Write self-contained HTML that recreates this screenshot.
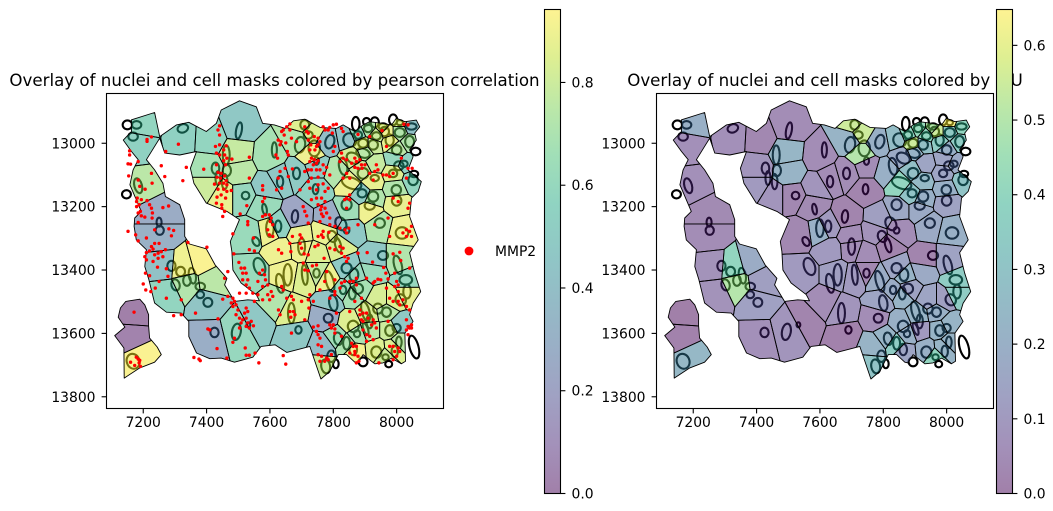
<!DOCTYPE html>
<html lang="en">
<head>
<meta charset="utf-8">
<title>Overlay of nuclei and cell masks</title>
<style>
html,body{margin:0;padding:0;background:#fff;}
svg{display:block;}
text{font-family:"DejaVu Sans","Liberation Sans",sans-serif;fill:#000;}
.title{font-size:16.67px;}
.tick{font-size:13.89px;}
</style>
</head>
<body>
<svg id="figure" width="1053" height="511" viewBox="0 0 1053 511" xmlns="http://www.w3.org/2000/svg">
  <rect x="0" y="0" width="1053" height="511" fill="#fff"/>
  <defs id="figure-defs">
    <linearGradient id="cbarGradient" x1="0" y1="1" x2="0" y2="0"></linearGradient>
  </defs>
  <text class="title" x="274.5" y="86" text-anchor="middle">Overlay of nuclei and cell masks colored by pearson correlation</text>
  <text class="title" x="825" y="86" text-anchor="middle">Overlay of nuclei and cell masks colored by IoU</text>
  <g id="pearson-panel"></g>
  <g id="iou-panel"></g>
  <g id="pearson-colorbar"></g>
  <g id="iou-colorbar"></g>
  <g>
    <circle cx="469" cy="251" r="4.4" fill="#ff0000"/>
    <text class="tick" x="495" y="256">MMP2</text>
  </g>
</svg>
<script>
// ---- axis ticks ----
const xTicks = [7200, 7400, 7600, 7800, 8000];
const yTicks = [13000, 13200, 13400, 13600, 13800];
const pearsonBarTicks = [0.0, 0.2, 0.4, 0.6, 0.8];
const iouBarTicks = [0.0, 0.1, 0.2, 0.3, 0.4, 0.5, 0.6];
const xDomain = [7084, 8148];
const yDomain = [12843, 13837];
const pearsonMax = 0.942;
const iouMax = 0.648;

// ---- tissue outline (data units): outer boundary, inner hole, separate island ----
const tissueOuter = [
[7163,12926],[7236,12903],[7252,12979],[7305,12942],[7344,12934],[7399,12963],[7431,12937],[7446,12895],[7504,12866],[7557,12885],[7577,12937],[7614,12942],[7648,12953],[7674,12929],[7710,12924],[7758,12950],[7810,12953],[7831,12942],[7868,12963],[7894,12942],[7915,12932],[7952,12937],[7984,12942],[7999,12921],[8026,12932],[8062,12927],[8073,12948],[8057,12968],[8062,12990],[8041,13021],[8052,13042],[8036,13084],[8078,13121],[8068,13152],[8047,13173],[8041,13231],[8068,13305],[8041,13345],[8057,13410],[8076,13468],[8052,13505],[8041,13541],[8052,13562],[8026,13599],[8028,13688],[8015,13696],[7984,13678],[7957,13693],[7931,13696],[7894,13667],[7878,13693],[7868,13691],[7842,13667],[7816,13667],[7789,13720],[7761,13744],[7726,13641],[7653,13660],[7616,13636],[7572,13641],[7546,13675],[7488,13691],[7446,13678],[7410,13680],[7368,13662],[7344,13610],[7344,13562],[7320,13536],[7273,13533],[7236,13504],[7218,13431],[7205,13389],[7210,13336],[7178,13305],[7171,13262],[7173,13236],[7194,13215],[7158,13131],[7168,13084],[7184,13052],[7163,13026],[7137,12990],[7163,12963]
];
const tissueHole = [
[7252,12984],[7210,13052],[7236,13084],[7262,13126],[7270,13168],[7315,13194],[7331,13241],[7331,13294],[7346,13318],[7399,13333],[7427,13384],[7464,13426],[7457,13447],[7488,13499],[7530,13494],[7567,13497],[7557,13478],[7509,13441],[7483,13400],[7480,13342],[7475,13310],[7504,13241],[7464,13215],[7399,13189],[7360,13126],[7349,13079],[7368,13026],[7315,13037],[7268,13031]
];
const tissueIsland = [
[7145,13499],[7189,13492],[7205,13510],[7217,13541],[7217,13576],[7220,13615],[7244,13643],[7257,13667],[7236,13691],[7189,13709],[7140,13741],[7139,13646],[7110,13607],[7142,13580],[7121,13549],[7128,13520]
];

// ---- cell seeds: centre x, centre y, reach x, reach y (data units) ----
const cellSeeds = [
[7205,12942,50,48],[7194,13005,60,50],[7320,12979,78,50],[7210,13131,58,85],[7252,13215,80,50],[7252,13294,85,60],[7262,13384,75,60],[7273,13478,62,62],[7325,13389,40,55],[7338,13447,30,50],
[7383,13373,55,62],[7415,13436,60,45],[7399,13499,70,50],[7402,13615,60,70],[7505,13590,65,100],[7556,13562,55,75],[7168,13536,50,45],[7163,13610,56,37],[7194,13678,62,65],[7504,12947,75,85],
[7410,12984,55,60],[7494,13031,50,45],[7399,13079,60,60],[7504,13089,55,45],[7399,13136,60,50],[7451,13168,50,60],[7514,13168,60,60],[7599,13042,58,85],[7588,13136,60,50],[7577,13200,50,50],
[7600,13275,50,60],[7535,13285,60,60],[7541,13410,65,70],[7690,12990,50,62],[7705,12937,30,22],[7731,12963,25,25],[7731,13037,30,45],[7784,12995,38,55],[7842,12984,40,50],[7747,13073,50,50],
[7684,13095,50,60],[7632,13110,50,50],[7747,13147,60,50],[7684,13231,70,70],[7626,13262,60,60],[7695,13294,70,50],[7773,13283,60,50],[7789,13236,50,40],[7847,13210,50,50],[7852,13273,45,40],
[7810,13091,45,60],[7863,13042,35,40],[7900,13026,35,35],[7852,13126,50,50],[7891,13084,30,30],[7931,13063,30,35],[7924,13121,30,30],[7891,13158,30,30],[7926,13173,30,35],[7915,13210,45,40],
[7999,13189,50,45],[7947,13257,50,50],[8015,13273,50,55],[7994,13142,45,35],[7989,13095,35,30],[7994,13047,35,30],[8000,13021,40,30],[8052,13116,35,32],[8031,13063,32,35],[8041,12995,30,28],
[8010,12963,30,25],[8047,12947,25,22],[7978,12995,30,30],[7968,12963,25,25],[7936,12974,25,25],[7910,12953,22,22],[7878,12968,25,25],[7894,13005,25,22],[7926,13005,22,22],[7957,12953,20,20],
[8010,12932,18,15],[7653,13410,55,70],[7710,13420,40,70],[7747,13405,25,60],[7784,13426,35,60],[7700,13331,50,40],[7632,13336,50,50],[7747,13347,40,40],[7815,13326,50,50],[7842,13394,40,40],
[7868,13420,35,40],[7931,13368,60,60],[8004,13368,50,60],[8031,13436,40,30],[8031,13473,45,30],[7989,13494,35,45],[7947,13494,35,45],[7968,13531,40,35],[7879,13457,35,35],[7831,13463,30,30],
[7858,13478,25,30],[7794,13499,45,40],[7779,13552,50,40],[7668,13531,60,70],[7616,13504,50,50],[7679,13605,80,60],[7852,13567,40,45],[7910,13541,35,45],[7875,13604,30,30],[7915,13589,30,35],
[7978,13589,30,35],[8010,13573,40,30],[8010,13625,35,30],[7936,13651,40,40],[7989,13646,30,35],[7964,13672,25,25],[7868,13657,30,35],[7842,13631,25,40],[7810,13610,40,40],[7768,13641,45,40],
[7763,13699,45,50],[7926,13400,55,50]
];

// ---- per-cell scores, same order as cellSeeds ----
const pearsonValues = [
.58,.55,.55,.75,.26,.3,.42,.58,.9,.72,
.93,.75,.45,.28,.6,.47,0,.02,.93,.47,
.58,.78,.68,.75,.8,.88,.6,.68,.47,.62,
.9,.62,.62,.72,.85,.85,.9,.4,.43,.5,
.5,.47,.55,.22,.55,.88,.88,.27,.65,.47,
.72,.82,.75,.9,.8,.78,.88,.5,.72,.9,
.88,.72,.9,.72,.85,.6,.75,.58,.55,.72,
.72,.42,.88,.9,.8,.72,.6,.85,.8,.85,
.85,.9,.85,.78,.9,.9,.9,.85,.85,.48,
.6,.47,.72,.6,.88,.85,.83,.75,.68,.62,
.68,.45,.27,.85,.72,.47,.85,.83,.7,.75,
.8,.47,.75,.85,.85,.8,.92,.7,.65,.38,
.8,.62
];
const iouValues = [
.2,.06,.06,.06,.04,.05,.07,.07,.4,.5,
.18,.12,.13,.06,.08,.02,0,.01,.24,.05,
.03,.23,.08,.22,.1,.08,.03,.05,.08,.04,
.2,.03,.1,.22,.55,.55,.5,.2,.27,.05,
.05,.05,.02,.02,.1,.05,.07,.12,.16,.05,
.2,.17,.22,.4,.28,.15,.25,.3,.2,.17,
.14,.17,.2,.2,.15,.15,.2,.3,.17,.35,
.33,.4,.35,.55,.4,.42,.4,.55,.28,.5,
.64,.12,.1,.03,.18,.05,.1,.05,.02,.15,
.22,.02,.14,.35,.35,.12,.15,.2,.14,.18,
.22,.15,.05,.08,.05,.01,.2,.22,.2,.1,
.22,.22,.22,.2,.22,.4,.15,.35,.22,.22,
.3,.17
];

// ---- nuclei outlines: x, y, radius x, radius y, tilt degrees (data units) ----
const nuclei = [
[7179,12942,15,12,0],[7168,12979,15,13,0],[7325,12953,17,13,-20],[7184,13134,12,24,-15],[7250,13249,8,14,0],[7252,13275,13,14,0],[7502,12960,9,26,10],[7462,13037,11,30,0],[7428,13079,12,18,0],[7464,13086,13,18,0],
[7436,13110,8,22,0],[7457,13121,9,24,0],[7523,13165,12,12,0],[7583,13208,7,17,-10],[7614,13021,8,24,0],[7600,13268,12,28,0],[7710,12942,14,15,0],[7695,13005,16,25,10],[7721,12974,14,12,0],[7740,13016,18,25,0],
[7789,12995,14,22,15],[7852,12990,20,22,-30],[7747,13056,8,12,0],[7684,13095,11,18,0],[7632,13121,10,18,0],[7744,13145,9,16,0],[7679,13231,10,20,5],[7626,13262,10,18,0],[7824,13254,16,22,-30],[7842,13275,9,10,0],
[7797,13294,14,18,-20],[7831,13073,13,27,-10],[7863,13047,22,16,30],[7894,13031,22,14,20],[7894,13095,17,17,0],[7931,13110,13,10,0],[7858,13126,32,17,20],[7891,13158,14,13,0],[7926,13168,16,16,0],[7842,13194,16,17,0],
[7915,13197,16,13,0],[8000,13181,15,16,0],[7947,13252,16,15,0],[8017,13283,20,18,0],[7999,13147,15,15,0],[7989,13095,13,12,0],[8007,13071,15,14,0],[8000,13021,15,15,0],[8052,13116,15,16,0],[8023,13065,12,10,0],
[8041,12995,14,18,0],[8010,12966,16,14,0],[8047,12947,16,10,0],[7978,12990,13,18,0],[7962,12963,14,15,0],[7936,12977,14,12,0],[7910,12953,13,12,0],[7878,12974,13,12,0],[7894,13000,15,14,0],[7926,13005,15,15,0],
[7957,12947,14,10,0],[8010,12935,10,8,0],[7289,13387,13,16,0],[7318,13405,14,15,0],[7302,13447,13,18,-15],[7338,13433,12,17,0],[7355,13418,11,25,-10],[7380,13452,15,12,0],[7380,13478,12,11,0],[7404,13502,14,14,0],
[7425,13597,13,15,0],[7494,13595,14,26,10],[7168,13688,20,24,-20],[7532,13573,6,8,0],[7567,13389,17,28,-20],[7556,13310,10,15,-30],[7656,13415,13,34,0],[7710,13415,9,32,-5],[7747,13410,10,14,0],[7632,13442,12,30,-10],
[7700,13326,11,26,0],[7815,13321,9,24,-15],[7789,13436,12,34,-15],[7842,13394,16,16,0],[7865,13415,14,20,0],[7878,13459,16,16,0],[7831,13463,10,13,0],[7860,13473,11,20,0],[7800,13504,13,25,-10],[7784,13552,14,14,0],
[7668,13536,11,32,0],[7690,13589,10,12,0],[7957,13354,16,14,0],[8004,13384,12,30,-15],[8029,13431,20,15,0],[8033,13468,12,22,0],[8013,13494,16,18,-30],[7941,13522,15,16,0],[7968,13533,14,15,0],[7902,13531,12,32,-15],
[7915,13562,10,22,0],[7863,13578,17,18,-20],[7902,13586,7,20,-20],[7875,13601,10,11,0],[7978,13591,14,17,0],[8000,13583,13,13,0],[7815,13617,13,20,-10],[7842,13631,11,20,0],[7863,13651,12,18,0],[7936,13659,16,18,0],
[8007,13628,9,18,0],[7994,13657,10,18,0],[7965,13675,10,9,0],[7794,13672,13,18,0],[7776,13704,14,22,-10],
[7150,12942,15,14,0],[7147,13161,14,13,0],[7871,12939,12,22,0],[7905,12932,11,12,0],[7931,12934,13,16,0],[7989,12926,13,17,0],[8060,13026,15,12,0],[8055,13097,13,10,0],[8055,13643,14,37,-15],[7808,13696,9,14,0],[7894,13690,14,14,0],[7975,13697,11,10,0]
];

// ---- MMP2 transcript positions (data units) ----
const mmp2NorthWest = [
[7226,12980],[7212,12988],[7212,12994],[7157,13024],[7157,13037],[7152,13065],[7160,13066],[7184,13058],[7271,13026],[7311,13003],[7257,13071],[7226,13095],[7154,13103],[7228,13126],[7268,13105],[7325,13118],[7336,13076],[7206,13145],[7184,13116],[7189,13136],[7181,13173],[7194,13178],[7179,13184],[7212,13181],[7187,13194],[7220,13194],[7179,13200],[7191,13215],[7226,13205],[7184,13220],[7229,13220],[7194,13229],[7205,13233],[7228,13236],[7262,13203],[7280,13198],[7184,13250],[7152,13278],[7176,13289],[7210,13299],[7236,13273],[7281,13270],[7296,13275],[7289,13292],
[7441,12945],[7436,12958],[7441,12974],[7428,13010],[7441,13005],[7462,13008],[7431,13031],[7441,13037],[7454,13021],[7457,13037],[7464,13047],[7454,13055],[7480,13050],[7460,13068],[7431,13068],[7391,13082],[7436,13092],[7446,13095],[7433,13107],[7444,13110],[7457,13103],[7462,13118],[7454,13126],[7425,13129],[7441,13126],[7464,13131],[7436,13145],[7454,13145],[7478,13149],[7464,13152],[7446,13163],[7433,13170],[7460,13173],[7431,13189],[7448,13194],[7448,13205],[7457,13215],[7451,13231],[7535,13044],[7535,13110],[7577,13134],[7577,13147],[7506,13223],[7527,13197],[7583,13173],[7577,13184],[7598,13226],[7604,13236],[7601,13247],[7609,13257],[7586,13226],[7593,13273],[7577,13231],[7598,13289],[7548,13299],[7483,13286],[7530,13247],[7530,13257],[7609,13294]
];
const mmp2NorthEast = [
[7663,12939],[7653,12948],[7642,12958],[7663,12958],[7637,12963],[7645,12974],[7626,12990],[7635,12995],[7650,12999],[7632,13005],[7668,12984],[7684,12995],[7619,13037],[7624,13047],[7655,13026],[7658,13037],[7648,13079],[7632,13089],[7626,13110],[7658,13105],[7671,13081],[7637,13142],[7621,13147],[7695,13147],[7710,12948],[7716,12963],[7721,12968],[7721,12990],[7740,12979],[7752,12984],[7729,13005],[7747,13010],[7726,13021],[7742,13021],[7752,13005],[7758,12995],[7768,12948],[7774,12958],[7784,12958],[7797,12968],[7789,12950],[7810,12940],[7800,12942],[7826,12953],[7831,12963],[7805,13010],[7800,13026],[7731,13047],[7740,13052],[7726,13058],[7747,13063],[7737,13068],[7752,13055],[7721,13084],[7731,13084],[7710,13089],[7747,13084],[7768,13068],[7779,13076],[7758,13084],[7771,13095],[7789,13100],[7752,13107],[7731,13110],[7721,13121],[7726,13142],[7752,13131],[7768,13128],[7747,13147],[7784,13142],[7774,13152],[7747,13173],[7763,13173],[7731,13178],[7774,13184],[7752,13194],[7763,13200],[7774,13205],[7705,13200],[7710,13215],[7716,13229],[7721,13252],[7760,13210],[7779,13220],[7768,13231],[7789,13236],[7763,13223],[7758,13247],[7789,13257],[7805,13262],[7821,13268],[7837,13273],[7842,13283],[7849,13268],[7878,13257],[7768,13278],[7786,13281],[7763,13289],[7768,13297],[7695,13289],[7671,13294],[7700,13299],[7752,13294],
[7826,13031],[7831,13047],[7821,13058],[7842,13052],[7868,13047],[7873,13058],[7884,13052],[7858,13063],[7889,13068],[7900,13068],[7868,13076],[7878,13079],[7891,13079],[7842,13095],[7831,13110],[7852,13110],[7915,13095],[7931,13089],[7941,13084],[7936,13068],[7926,13116],[7957,13100],[7968,13100],[7989,13095],[7978,13105],[8031,13110],[8036,13079],[8049,13079],[8015,13047],[7968,13010],[7915,12979],[7954,12960],[7878,12972],[8023,12940],[8036,12942],[7852,13163],[7842,13173],[7852,13178],[7836,13178],[7842,13205],[7989,13173],[8005,13184],[8041,13189],[8036,13205],[7931,13257],[7973,13236],[8047,13262],[8031,13273],[8041,13278],[8020,13283],[8047,13294],[8031,13294],[7978,13294]
];
const mmp2SouthWest = [
[7184,13308],[7226,13326],[7236,13316],[7250,13316],[7231,13334],[7220,13340],[7210,13345],[7205,13358],[7210,13368],[7247,13347],[7257,13342],[7270,13336],[7236,13352],[7247,13363],[7262,13358],[7231,13373],[7245,13391],[7207,13410],[7220,13418],[7273,13396],[7278,13420],[7250,13436],[7200,13444],[7208,13463],[7224,13468],[7238,13457],[7273,13489],[7320,13494],[7296,13544],[7320,13541],[7171,13533],[7365,13536],[7341,13313],[7401,13328],[7457,13426],[7467,13405],[7451,13492],[7467,13483],[7483,13489],[7478,13504],[7488,13499],[7483,13515],[7493,13510],[7499,13526],[7493,13541],[7504,13552],[7514,13557],[7509,13567],[7525,13520],[7520,13536],[7530,13531],[7525,13552],[7530,13567],[7541,13562],[7548,13576],[7535,13583],[7525,13578],[7551,13499],[7436,13554],[7404,13586],[7410,13589],[7504,13583],[7488,13615],[7483,13628],[7522,13646],[7433,13648],[7464,13678],[7360,13676],[7376,13681],[7380,13686],[7525,13669],[7535,13669],[7553,13662],[7565,13693],[7178,13675],[7184,13681],[7189,13685],[7187,13693],[7160,13691],[7173,13701],[7191,13704],
[7486,13349],[7502,13376],[7509,13394],[7520,13394],[7514,13410],[7525,13410],[7514,13431],[7530,13431],[7525,13447],[7535,13457],[7551,13340],[7535,13336],[7577,13400],[7567,13410],[7583,13415],[7586,13431],[7593,13447],[7577,13452],[7562,13436],[7525,13473],[7504,13473],[7546,13473],[7604,13468],[7593,13478],[7609,13483],[7599,13494],[7562,13478],[7577,13494]
];
const mmp2SouthEast = [
[7627,13336],[7637,13347],[7663,13316],[7666,13342],[7695,13316],[7700,13331],[7708,13349],[7721,13352],[7742,13326],[7752,13321],[7705,13378],[7710,13400],[7721,13402],[7734,13387],[7747,13384],[7771,13363],[7789,13331],[7805,13336],[7821,13326],[7831,13331],[7826,13347],[7836,13358],[7842,13373],[7847,13363],[7878,13347],[7907,13345],[7989,13349],[8010,13344],[8013,13370],[8041,13394],[7966,13410],[7924,13375],[7959,13392],[7994,13410],[7931,13436],[7926,13441],[7941,13429],[7950,13431],[7973,13428],[8000,13436],[8005,13447],[7905,13426],[7873,13426],[7863,13436],[7873,13447],[7852,13436],[7836,13436],[7826,13441],[7805,13431],[7779,13405],[7773,13436],[7821,13457],[7805,13468],[7805,13478],[7789,13489],[7758,13463],[7726,13478],[7721,13494],[7737,13499],[7700,13499],[7668,13483],[7674,13494],[7653,13489],[7642,13463],[7637,13452],[7627,13526],[7632,13541],[7663,13531],[7674,13531],[7679,13541],[7666,13549],[7723,13520],[7710,13557],[7668,13599],[7642,13670],[7650,13697],[7737,13580],[7752,13576],[7747,13594],[7752,13604],[7758,13615],[7752,13636],[7763,13641],[7752,13667],[7763,13672],[7779,13678],[7758,13688],[7773,13688],[7784,13683],[7794,13667],[7800,13573],[7794,13583],[7805,13586],[7789,13573],[7805,13599],[7826,13609],[7810,13536],[7852,13531],[7884,13526],[7894,13536],[7905,13536],[7884,13541],[7889,13557],[7910,13552],[7894,13562],[7926,13557],[7931,13567],[7936,13583],[7921,13573],[7894,13589],[7905,13604],[7915,13609],[7905,13625],[7926,13620],[7858,13631],[7863,13641],[7873,13641],[7868,13657],[7852,13662],[7868,13667],[7878,13672],[7873,13693],[7881,13688],[7978,13641],[7989,13641],[8005,13646],[7994,13657],[8010,13657],[8000,13672],[7989,13683],[7944,13693],[8031,13557],[8047,13573],[8041,13583],[8036,13578],[8031,13589],[8047,13583],[8036,13604],[7978,13489],[7989,13499],[8005,13499],[8010,13510],[8020,13494],[8031,13515],[8041,13526],[7968,13457],[8005,13468],[7994,13452],[7973,13562],[7889,13489],[7868,13499]
];

// ---- colormap ----
const viridisStops = ["#440154","#482475","#414487","#355f8d","#2a788e","#21918c","#22a884","#44bf70","#7ad151","#bddf26","#fde725"];

const SVGNS = "http://www.w3.org/2000/svg";
function make(tag, attrs, parent) {
  const node = document.createElementNS(SVGNS, tag);
  for (const key in attrs) node.setAttribute(key, attrs[key]);
  if (parent) parent.appendChild(node);
  return node;
}
function hexToRgb(h) {
  return [parseInt(h.slice(1,3),16), parseInt(h.slice(3,5),16), parseInt(h.slice(5,7),16)];
}
function viridis(t) {
  const c = Math.max(0, Math.min(1, t)) * (viridisStops.length - 1);
  const i = Math.min(Math.floor(c), viridisStops.length - 2);
  const f = c - i;
  const a = hexToRgb(viridisStops[i]);
  const b = hexToRgb(viridisStops[i + 1]);
  return "rgb(" + a.map(function (v, k) { return Math.round(v + (b[k] - v) * f); }).join(",") + ")";
}

// clip a polygon by the half-plane closer to seed a than to seed b
function clipBisector(poly, a, b) {
  const mx = (a[0] + b[0]) / 2;
  const my = (a[1] + b[1]) / 2;
  const nx = b[0] - a[0];
  const ny = b[1] - a[1];
  const side = function (p) { return (p[0] - mx) * nx + (p[1] - my) * ny; };
  const out = [];
  for (let i = 0; i < poly.length; i++) {
    const p = poly[i];
    const q = poly[(i + 1) % poly.length];
    const sp = side(p);
    const sq = side(q);
    if (sp <= 0) out.push(p);
    if ((sp < 0 && sq > 0) || (sp > 0 && sq < 0)) {
      const t = sp / (sp - sq);
      out.push([p[0] + (q[0] - p[0]) * t, p[1] + (q[1] - p[1]) * t]);
    }
  }
  return out;
}
function cellPolygon(index) {
  const s = cellSeeds[index];
  let poly = [];
  for (let k = 0; k < 28; k++) {
    const ang = (k / 28) * 2 * Math.PI;
    poly.push([s[0] + 2.4 * s[2] * Math.cos(ang), s[1] + 2.4 * s[3] * Math.sin(ang)]);
  }
  cellSeeds.forEach(function (other, j) {
    if (j !== index && poly.length) poly = clipBisector(poly, s, other);
  });
  return poly;
}

function drawPanel(groupId, left, right, top, bottom, values, vmax, showPoints) {
  const g = document.getElementById(groupId);
  const scaleX = function (v) { return left + (v - xDomain[0]) / (xDomain[1] - xDomain[0]) * (right - left); };
  const scaleY = function (v) { return top + (v - yDomain[0]) / (yDomain[1] - yDomain[0]) * (bottom - top); };
  const kx = (right - left) / (xDomain[1] - xDomain[0]);
  const ky = (bottom - top) / (yDomain[1] - yDomain[0]);

  const ringPath = function (ring) {
    return "M" + ring.map(function (p) { return scaleX(p[0]).toFixed(1) + " " + scaleY(p[1]).toFixed(1); }).join("L") + "Z";
  };
  const outlineD = ringPath(tissueOuter) + ringPath(tissueHole) + ringPath(tissueIsland);
  const clipId = groupId + "-clip";
  const clip = make("clipPath", { id: clipId }, document.getElementById("figure-defs"));
  make("path", { d: outlineD, "clip-rule": "evenodd" }, clip);

  nuclei.forEach(function (n) {
    const e = make("ellipse", {
      cx: scaleX(n[0]), cy: scaleY(n[1]), rx: n[2] * kx, ry: n[3] * ky,
      transform: "rotate(" + n[4] + " " + scaleX(n[0]) + " " + scaleY(n[1]) + ")",
      fill: "none", stroke: "#000", "stroke-width": 2.1
    }, g);
    
    
  });

  const cellLayer = make("g", { "clip-path": "url(#" + clipId + ")" }, g);
  
  
  cellSeeds.forEach(function (s, i) {
    const poly = cellPolygon(i);
    const pts = poly.map(function (p) { return scaleX(p[0]).toFixed(1) + "," + scaleY(p[1]).toFixed(1); }).join(" ");
    const c = make("polygon", {
      points: pts, fill: viridis(values[i] / vmax), "fill-opacity": 0.5,
      stroke: "#000", "stroke-width": 0.9, "stroke-linejoin": "round"
    }, cellLayer);
    
    
  });
  const outline = make("path", { d: outlineD, fill: "none", stroke: "#000", "stroke-width": 0.9, "stroke-linejoin": "round" }, g);
  
  

  if (showPoints) {
    [mmp2NorthWest, mmp2NorthEast, mmp2SouthWest, mmp2SouthEast].forEach(function (list) {
      list.forEach(function (p) {
        const d = make("circle", { cx: scaleX(p[0]), cy: scaleY(p[1]), r: 1.7, fill: "#ff0000" }, g);
        
        
      });
    });
  }

  const frame = make("rect", { x: left, y: top, width: right - left, height: bottom - top, fill: "none", stroke: "#000", "stroke-width": 1.1 }, g);
  
  

  xTicks.forEach(function (t) {
    const x = scaleX(t);
    const m = make("line", { x1: x, x2: x, y1: bottom, y2: bottom + 4.9, stroke: "#000", "stroke-width": 1.1 }, g);
    
    
    const l = make("text", { x: x, y: bottom + 18.5, "text-anchor": "middle", "class": "tick" }, g);
    
    
    l.textContent = String(t);
  });
  yTicks.forEach(function (t) {
    const y = scaleY(t);
    const m = make("line", { x1: left - 4.9, x2: left, y1: y, y2: y, stroke: "#000", "stroke-width": 1.1 }, g);
    
    
    const l = make("text", { x: left - 11, y: y + 5, "text-anchor": "end", "class": "tick" }, g);
    
    
    l.textContent = String(t);
  });
}

function drawColorbar(groupId, left, right, top, bottom, vmax, ticks) {
  const g = document.getElementById(groupId);
  const scaleV = function (v) { return bottom - v / vmax * (bottom - top); };
  const base = make("rect", { x: left, y: top, width: right - left, height: bottom - top, fill: "#fff" }, g);
  
  
  const ramp = make("rect", { x: left, y: top, width: right - left, height: bottom - top, fill: "url(#cbarGradient)", "fill-opacity": 0.5 }, g);
  
  
  const frame = make("rect", { x: left, y: top, width: right - left, height: bottom - top, fill: "none", stroke: "#000", "stroke-width": 1.1 }, g);
  
  
  ticks.forEach(function (t) {
    const y = scaleV(t);
    const m = make("line", { x1: right, x2: right + 4.9, y1: y, y2: y, stroke: "#000", "stroke-width": 1.1 }, g);
    
    
    const l = make("text", { x: right + 11, y: y + 5, "class": "tick" }, g);
    
    
    l.textContent = t.toFixed(1);
  });
}

const grad = document.getElementById("cbarGradient");
viridisStops.forEach(function (c, i) {
  make("stop", { offset: i / (viridisStops.length - 1), "stop-color": c }, grad);
});

drawPanel("pearson-panel", 106.5, 443.5, 93.5, 408.5, pearsonValues, pearsonMax, true);
drawPanel("iou-panel", 656.5, 993.5, 93.5, 408.5, iouValues, iouMax, false);
drawColorbar("pearson-colorbar", 544.5, 560.5, 9.5, 493.5, pearsonMax, pearsonBarTicks);
drawColorbar("iou-colorbar", 996.5, 1012.5, 9.5, 493.5, iouMax, iouBarTicks);
</script>
</body>
</html>
